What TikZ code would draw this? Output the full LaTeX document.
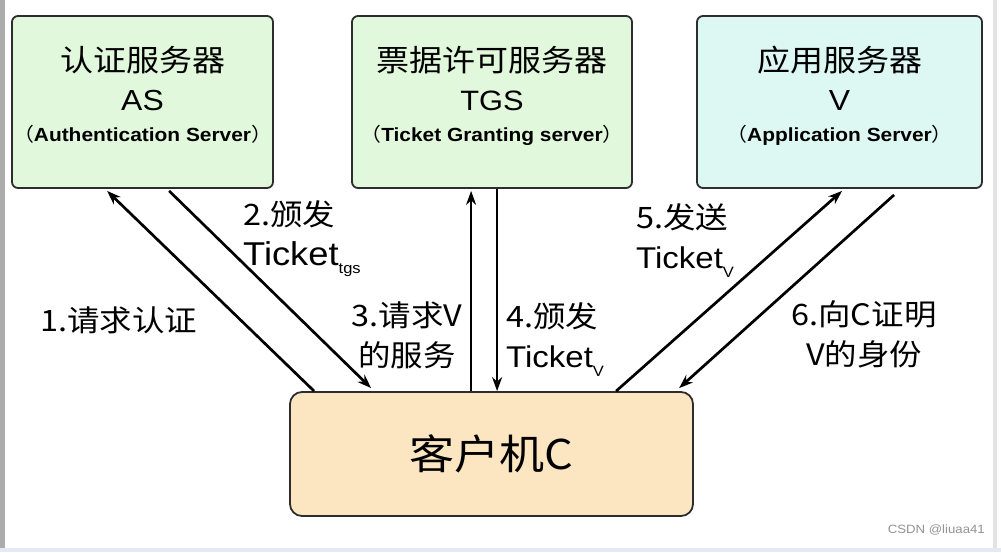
\documentclass[tikz,border=0pt]{standalone}
\usepackage{fontspec}
\setmainfont{Noto Sans CJK SC}[FakeStretch=1.1]
\newfontfamily\latfont{Liberation Sans}[FakeStretch=1.1]
\usetikzlibrary{arrows.meta,positioning,calc}
\definecolor{asgreen}{RGB}{226,248,221}
\definecolor{vcyan}{RGB}{221,248,243}
\definecolor{cliorange}{RGB}{252,230,194}
\definecolor{edge}{RGB}{45,45,45}
\definecolor{strip}{RGB}{228,234,241}

\begin{document}
\begin{tikzpicture}[x=1pt, y=-1pt,
  srv/.style={draw=edge, line width=1.8pt, rounded corners=6pt, minimum height=172pt, inner sep=0pt},
  srvtxt/.style={align=center, inner sep=0pt, font=\fontsize{30}{31}\selectfont},
  cli/.style={draw=edge, line width=1.8pt, rounded corners=12pt, fill=cliorange, minimum width=403pt, minimum height=124pt, font=\fontsize{41}{48}\selectfont},
  arr/.style={-{Stealth[length=14pt,width=10pt]}, line width=2.7pt},
  lbl/.style={inner sep=0pt, font=\fontsize{29.5}{40}\selectfont},
]
  % page frame
  \useasboundingbox (0,0) rectangle (1001,552);
  \fill[white] (0,0) rectangle (1001,552);
  \fill[gray!65] (0,0) rectangle (4.5,552);
  \fill[gray!22] (993,0) rectangle (997,548);
  \fill[strip] (0,548) rectangle (1001,552);

  % servers
  \node[srv, fill=asgreen, minimum width=261pt] (as) at (142.5,102) {};
  \node[srv, fill=asgreen, minimum width=280pt] (tgs) at (492,102) {};
  \node[srv, fill=vcyan, minimum width=285pt] (v) at (839.5,102) {};
  \node[srvtxt, anchor=base] (astxt) at ([yshift=-39pt]as.center)
    {认证服务器\\[8pt]{\latfont\fontsize{29}{31}\selectfont AS}\\{\fontsize{19}{20}\selectfont（{\latfont\bfseries Authentication Server}）}};
  \node[srvtxt, anchor=base] (tgstxt) at ([yshift=-39pt]tgs.center)
    {票据许可服务器\\[8pt]{\latfont\fontsize{28}{31}\selectfont TGS}\\{\fontsize{19}{20}\selectfont（{\latfont\bfseries Ticket Granting server}）}};
  \node[srvtxt, anchor=base] (vtxt) at ([yshift=-39pt]v.center)
    {应用服务器\\[8pt]{\latfont\fontsize{29}{31}\selectfont V}\\{\fontsize{19}{20}\selectfont（{\latfont\bfseries Application Server}）}};

  % client
  \node[cli] (client) at (491.5,454) {客户机C};

  % messages
  \draw[arr] ([xshift=25pt]client.north west) -- ([xshift=96pt,yshift=-2pt]as.south west);
  \draw[arr] ([xshift=158pt,yshift=-2pt]as.south west) -- ([xshift=82pt,yshift=3pt]client.north west);
  \draw[arr] ([xshift=182pt]client.north west) -- ([xshift=120pt,yshift=-2pt]tgs.south west);
  \draw[arr] ([xshift=146pt]tgs.south west) -- ([xshift=208pt]client.north west);
  \draw[arr] ([xshift=327pt]client.north west) -- ([xshift=146pt,yshift=-2pt]v.south west);
  \draw[arr] ([xshift=198pt,yshift=-6pt]v.south west) -- ([xshift=390pt,yshift=3pt]client.north west);

  \node[lbl, anchor=base west] (req) at (40,331) {1.请求认证};
  \node[lbl, align=left, anchor=base west] (tgt) at (243,265)
    {2.颁发\\{\latfont\fontsize{33}{40}\selectfont Ticket\raisebox{-8pt}{\fontsize{15}{15}\selectfont tgs}}};
  \node[lbl, align=center, anchor=base] (reqv) at (407,366) {3.请求V\\的服务};
  \node[lbl, align=left, anchor=base west] (tv) at (506,367)
    {4.颁发\\{\latfont\fontsize{30}{40}\selectfont Ticket\raisebox{-9pt}{\fontsize{15}{15}\selectfont V}}};
  \node[lbl, align=left, anchor=base west] (send) at (636,268)
    {5.发送\\{\latfont\fontsize{30}{40}\selectfont Ticket\raisebox{-9pt}{\fontsize{15}{15}\selectfont V}}};
  \node[lbl, align=center, anchor=base] (auth) at (864,365) {6.向C证明\\V的身份};

  \node[font=\latfont\fontsize{12}{14}\selectfont, text=gray!85, inner sep=0pt, anchor=base east] (mark) at (985,533) {CSDN @liuaa41};
\end{tikzpicture}
\end{document}
